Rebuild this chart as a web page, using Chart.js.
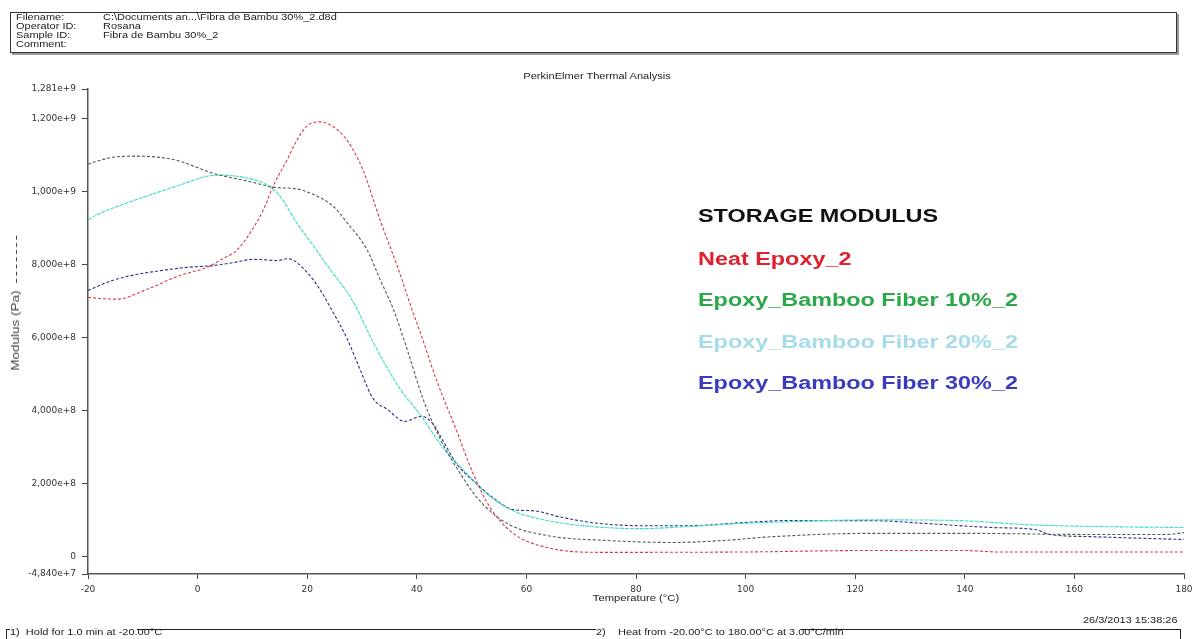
<!DOCTYPE html>
<html>
<head>
<meta charset="utf-8">
<script src="https://cdn.jsdelivr.net/npm/chart.js@4.4.1/dist/chart.umd.min.js"></script>
<style>
  body { margin: 0; background: #fff; }
  #wrap { position: relative; width: 1204px; height: 639px; overflow: hidden; font-family: "Liberation Sans", Arimo, Arial, "DejaVu Sans", sans-serif; color: #222; }
  #chart { position: absolute; left: 0; top: 0; }
  .t { position: absolute; white-space: nowrap; line-height: 1; }
  .sx { display: inline-block; transform-origin: left center; transform: scaleX(1.22); }
  #header { position: absolute; left: 10px; top: 12px; width: 1165px; height: 39px; border: 1px solid #333; box-shadow: 2px 2px 0 #999; }
  .hl { position: absolute; left: 16px; font-size: 9px; }
  .hv { position: absolute; left: 103px; font-size: 9px; }
  .note { position: absolute; font-weight: bold; font-size: 18px; line-height: 20px; white-space: nowrap; transform-origin: left center; transform: scaleX(1.3); }
  .box { position: absolute; top: 629px; height: 14px; border-top: 1px solid #222; }
  .boxtxt { position: absolute; top: 627px; font-size: 9px; background: #fff; white-space: nowrap; padding-right: 2px; }
</style>
</head>
<body>
<div id="wrap">
  <canvas id="chart" width="1204" height="639"></canvas>

  <div id="header"></div>
  <div class="t hl" style="top:13px"><span class="sx">Filename:</span></div>
  <div class="t hv" style="top:13px"><span class="sx">C:\Documents an...\Fibra de Bambu 30%_2.d8d</span></div>
  <div class="t hl" style="top:22px"><span class="sx">Operator ID:</span></div>
  <div class="t hv" style="top:22px"><span class="sx">Rosana</span></div>
  <div class="t hl" style="top:31px"><span class="sx">Sample ID:</span></div>
  <div class="t hv" style="top:31px"><span class="sx">Fibra de Bambu 30%_2</span></div>
  <div class="t hl" style="top:40px"><span class="sx">Comment:</span></div>

  <div class="t" style="left:597px; top:72px; font-size:9px; transform: translateX(-50%) scaleX(1.23);">PerkinElmer Thermal Analysis</div>

  <div class="t" style="left:16px; top:303px; font-size:10px; color:#444; transform: translate(-50%,-50%) rotate(-90deg) scaleX(1.35);">Modulus (Pa) <span style="display:inline-block; width:35px; border-top:1px dashed #444; vertical-align:middle; margin-left:3px;"></span></div>

  <div class="t" style="left:636px; top:594px; font-size:9px; transform: translateX(-50%) scaleX(1.25);">Temperature (°C)</div>

  <div class="note" style="left:698px; top:206px; color:#111;">STORAGE MODULUS</div>
  <div class="note" style="left:698px; top:249px; color:#e0202e;">Neat Epoxy_2</div>
  <div class="note" style="left:698px; top:290px; color:#2aa84a;">Epoxy_Bamboo Fiber 10%_2</div>
  <div class="note" style="left:698px; top:332px; color:#a6dcea;">Epoxy_Bamboo Fiber 20%_2</div>
  <div class="note" style="left:698px; top:373px; color:#3a3cbe;">Epoxy_Bamboo Fiber 30%_2</div>

  <div class="t" style="right:26px; top:616px; font-size:9px; transform-origin:right center; transform: scaleX(1.22);">26/3/2013 15:38:26</div>

  <div class="box" style="left:6px; width:583px; border-left:1px solid #222;"></div>
  <div class="boxtxt" style="left:10px;"><span class="sx">1)&nbsp; Hold for 1.0 min at -20.00°C</span></div>
  <div class="box" style="left:590px; width:590px; border-right:1px solid #222;"></div>
  <div class="boxtxt" style="left:596px;"><span class="sx">2)&nbsp;&nbsp;&nbsp; Heat from -20.00°C to 180.00°C at 3.00°C/min</span></div>
</div>

<script>
// temperatures (°C) and storage modulus (Pa)
const neatTemp = [-20, -17, -14.7, -9.2, -3.2, 1.7, 4.5, 7.2, 9.6, 12, 13.8, 16.3, 18.1, 20, 22.3, 24.7, 27.3, 30.2, 33.3, 36.4, 39.3, 40.6, 43.7, 47.3, 50.3, 53.4, 57.6, 63.8, 73.4, 80, 100, 122, 140, 146, 160, 180];
const neatModulus = [7.10e8, 7.06e8, 7.05e8, 7.32e8, 7.70e8, 7.92e8, 8.15e8, 8.40e8, 8.87e8, 9.50e8, 1.015e9, 1.086e9, 1.140e9, 1.180e9, 1.191e9, 1.178e9, 1.140e9, 1.058e9, 9.22e8, 7.97e8, 6.69e8, 6.15e8, 4.79e8, 3.43e8, 2.26e8, 1.33e8, 6.3e7, 2.4e7, 1.1e7, 1.1e7, 1.2e7, 1.6e7, 1.6e7, 1.2e7, 1.2e7, 1.2e7];

const fiber10Temp = [-20, -18.4, -15.4, -11, -5.6, -3.2, 2.8, 9, 13.8, 18.1, 20.5, 24.7, 27.3, 30.9, 33.3, 35.7, 38.2, 41.1, 44.2, 47.3, 51.5, 56.5, 63.8, 74.7, 86.8, 95.9, 105, 122.7, 140, 163, 177, 180];
const fiber10Modulus = [1.075e9, 1.083e9, 1.094e9, 1.097e9, 1.091e9, 1.083e9, 1.050e9, 1.029e9, 1.012e9, 1.007e9, 9.96e8, 9.60e8, 9.14e8, 8.41e8, 7.59e8, 6.78e8, 5.69e8, 4.33e8, 3.24e8, 2.42e8, 1.52e8, 9.0e7, 5.7e7, 4.35e7, 3.8e7, 4.35e7, 5.4e7, 6.3e7, 6.3e7, 6.0e7, 6.0e7, 6.5e7];

const fiber20Temp = [-20, -18.4, -15.4, -9.2, -3.2, 1.7, 4.1, 9, 12.7, 15, 18.1, 21.1, 24.2, 27.3, 29.1, 32, 36.9, 40.6, 44.8, 49.2, 52.8, 57.6, 63.8, 71.6, 80.7, 89.9, 99, 108, 122.7, 139, 145, 151, 163, 180];
const fiber20Modulus = [9.22e8, 9.36e8, 9.55e8, 9.88e8, 1.018e9, 1.042e9, 1.045e9, 1.037e9, 1.018e9, 9.88e8, 9.14e8, 8.52e8, 7.86e8, 7.24e8, 6.78e8, 5.88e8, 4.60e8, 3.89e8, 2.97e8, 2.26e8, 1.71e8, 1.25e8, 9.8e7, 8.2e7, 7.6e7, 8.2e7, 9.0e7, 9.5e7, 1.0e8, 9.8e7, 9.3e7, 8.7e7, 8.2e7, 7.9e7];

const fiber30Temp = [-20, -15.4, -11, -6.3, -2, 2.8, 6.5, 10.1, 14.5, 16.5, 20, 22.3, 24.2, 27.3, 29.6, 32, 34.6, 37.8, 40.9, 43, 44.8, 47.3, 50.3, 53.9, 57.6, 61.2, 66.7, 73.4, 80.7, 89.9, 99, 108, 122.7, 133, 145, 153, 155.5, 163, 180];
const fiber30Modulus = [7.29e8, 7.57e8, 7.73e8, 7.84e8, 7.92e8, 7.97e8, 8.05e8, 8.14e8, 8.11e8, 8.16e8, 7.78e8, 7.32e8, 6.83e8, 5.96e8, 5.14e8, 4.33e8, 4.03e8, 3.70e8, 3.84e8, 3.62e8, 3.16e8, 2.53e8, 2.07e8, 1.61e8, 1.28e8, 1.25e8, 1.06e8, 9.0e7, 8.4e7, 8.4e7, 9.2e7, 9.8e7, 9.8e7, 9.0e7, 7.9e7, 7.3e7, 6.0e7, 5.4e7, 4.6e7];

const yTickValues = [-4.84e7, 0, 2e8, 4e8, 6e8, 8e8, 1e9, 1.2e9, 1.281e9];
const yTickLabels = ['-4,840e+7', '0', '2,000e+8', '4,000e+8', '6,000e+8', '8,000e+8', '1,000e+9', '1,200e+9', '1,281e+9'];

function pts(xs, ys) {
    return xs.map((x, i) => ({ x: x, y: ys[i] }));
}

function series(data, color, dash) {
    return {
        data: data,
        borderColor: color,
        borderWidth: 1.1,
        borderDash: dash,
        pointRadius: 0,
        fill: false,
        cubicInterpolationMode: 'monotone'
    };
}

const ctx = document.getElementById('chart').getContext('2d');

new Chart(ctx, {
    type: 'line',
    data: {
        datasets: [
            series(pts(neatTemp, neatModulus), '#d8384f', [3, 2]),
            series(pts(fiber10Temp, fiber10Modulus), '#4c5e50', [3, 2]),
            series(pts(fiber20Temp, fiber20Modulus), '#3edcc6', [4, 1]),
            series(pts(fiber30Temp, fiber30Modulus), '#2a2c8c', [3, 2])
        ]
    },
    options: {
        responsive: false,
        devicePixelRatio: 1,
        animation: false,
        layout: { padding: { top: 89, right: 20, left: 0, bottom: 0 } },
        plugins: {
            legend: { display: false },
            tooltip: { enabled: false }
        },
        scales: {
            x: {
                type: 'linear',
                min: -20,
                max: 180,
                afterFit: (s) => { s.height = 65; },
                ticks: {
                    stepSize: 20,
                    color: '#333',
                    padding: 5,
                    maxRotation: 0,
                    font: { family: 'DejaVu Sans', size: 9 }
                },
                grid: { drawOnChartArea: false, tickLength: 5, color: '#444' },
                border: { color: '#555', width: 1.5 }
            },
            y: {
                type: 'linear',
                min: -4.84e7,
                max: 1.281e9,
                afterFit: (s) => { s.width = 88; },
                afterBuildTicks: (s) => { s.ticks = yTickValues.map(v => ({ value: v })); },
                ticks: {
                    color: '#333',
                    padding: 6,
                    font: { family: 'DejaVu Sans', size: 9 },
                    callback: (v) => yTickLabels[yTickValues.indexOf(v)]
                },
                grid: { drawOnChartArea: false, tickLength: 6, color: '#444' },
                border: { color: '#555', width: 1.5 }
            }
        }
    }
});
</script>
</body>
</html>
